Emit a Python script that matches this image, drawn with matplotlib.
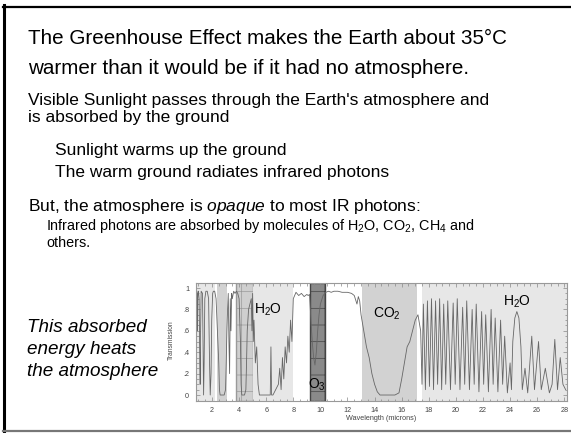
"""
Slide: greenhouse effect text with atmospheric transmission spectrum.
"""

import matplotlib

matplotlib.use("Agg")
import matplotlib.pyplot as plt
from matplotlib.lines import Line2D

plt.rcParams["font.family"] = ["Liberation Sans", "DejaVu Sans"]
plt.rcParams["mathtext.fontset"] = "custom"
plt.rcParams["mathtext.rm"] = "Liberation Sans"
plt.rcParams["mathtext.it"] = "Liberation Sans:italic"
plt.rcParams["hatch.linewidth"] = 0.5

W, H = 571, 433

# ── spectrum (wavelength in microns, transmission) ──
wavelength = [
    0.85, 0.9, 0.93, 0.95, 0.97, 1.0, 1.05, 1.1, 1.13, 1.16, 1.2, 1.3, 1.35, 1.38,
    1.42, 1.47, 1.55, 1.65, 1.75, 1.82, 1.87, 1.93, 1.98, 2.05, 2.1, 2.2, 2.3,
    2.4, 2.5, 2.55, 2.6, 2.7, 2.8, 2.9, 3.0, 3.05, 3.1,
    3.15, 3.2, 3.25, 3.3, 3.35, 3.4, 3.45, 3.5, 3.6, 3.7, 3.8, 3.9, 4.0,
    4.1, 4.15, 4.2, 4.3, 4.4, 4.5, 4.55, 4.6, 4.7, 4.8, 4.9, 4.95, 5.0,
    5.05, 5.1, 5.2, 5.3, 5.4, 5.5, 5.6, 5.8, 6.0, 6.2, 6.3, 6.35, 6.4, 6.5, 6.7,
    6.9, 7.0, 7.1, 7.2, 7.3, 7.4, 7.5, 7.6, 7.7, 7.8, 7.9, 8.0,
    8.1, 8.2, 8.4, 8.6, 8.8, 9.0, 9.1, 9.2, 9.3, 9.4, 9.5, 9.6, 9.7, 9.8, 9.9,
    10.0, 10.2, 10.4,
    10.6, 10.8, 11.0, 11.3, 11.6, 12.0, 12.3, 12.5, 12.7, 12.8, 12.9,
    13.0, 13.2, 13.4, 13.6, 13.8, 14.0, 14.2, 14.4, 15.0, 15.5, 15.8, 16.0, 16.2,
    16.4, 16.6, 16.8, 17.0, 17.2, 17.4,
    17.5, 17.6, 17.75, 17.9, 18.05, 18.2, 18.35, 18.5, 18.65, 18.8, 18.95, 19.1,
    19.25, 19.4, 19.6, 19.8, 19.95, 20.1, 20.3, 20.5, 20.65, 20.8, 21.0, 21.2,
    21.35, 21.5, 21.7, 21.9, 22.05, 22.2, 22.4, 22.6, 22.75, 22.9, 23.1, 23.3,
    23.45, 23.6, 23.8, 24.0, 24.1, 24.2, 24.35, 24.5, 24.65, 24.8, 24.9, 25.1,
    25.3, 25.6, 25.8, 26.1, 26.3, 26.6, 26.9, 27.1, 27.3, 27.5, 27.7, 27.9, 28.1,
]
transmission = [
    0.97, 0.95, 0.6, 0.9, 0.97, 0.97, 0.9, 0.3, 0.1, 0.6, 0.97, 0.95, 0.4, 0.0,
    0.3, 0.9, 0.97, 0.97, 0.9, 0.3, 0.0, 0.2, 0.7, 0.95, 0.97, 0.97, 0.9,
    0.6, 0.3, 0.05, 0.0, 0.0, 0.0, 0.0, 0.05, 0.3, 0.6,
    0.8, 0.95, 0.5, 0.2, 0.9, 0.6, 0.95, 0.9, 0.97, 0.95, 0.97, 0.95, 0.9,
    0.5, 0.1, 0.0, 0.0, 0.0, 0.05, 0.3, 0.6, 0.8, 0.85, 0.9, 0.6, 0.95,
    0.5, 0.7, 0.3, 0.45, 0.1, 0.0, 0.0, 0.0, 0.0, 0.0, 0.0, 0.45, 0.0, 0.0, 0.05,
    0.1, 0.25, 0.05, 0.35, 0.15, 0.45, 0.3, 0.55, 0.4, 0.7, 0.5, 0.9,
    0.93, 0.96, 0.93, 0.95, 0.92, 0.94, 0.93, 0.94, 0.7, 0.5, 0.35, 0.28, 0.4,
    0.6, 0.75, 0.85, 0.93, 0.96,
    0.97, 0.96, 0.97, 0.97, 0.96, 0.96, 0.95, 0.93, 0.85, 0.92, 0.88,
    0.75, 0.6, 0.45, 0.35, 0.2, 0.1, 0.03, 0.0, 0.0, 0.0, 0.02, 0.15, 0.3,
    0.45, 0.5, 0.6, 0.7, 0.75, 0.6,
    0.1, 0.85, 0.05, 0.88, 0.08, 0.9, 0.05, 0.88, 0.1, 0.9, 0.05, 0.85,
    0.1, 0.88, 0.05, 0.86, 0.1, 0.9, 0.05, 0.82, 0.1, 0.88, 0.05, 0.8,
    0.1, 0.85, 0.03, 0.78, 0.1, 0.75, 0.03, 0.8, 0.1, 0.72, 0.03, 0.7,
    0.1, 0.55, 0.02, 0.3, 0.05, 0.5, 0.72, 0.78, 0.72, 0.45, 0.05, 0.25,
    0.02, 0.55, 0.05, 0.5, 0.05, 0.25, 0.02, 0.1, 0.52, 0.05, 0.35, 0.1, 0.05,
]

# absorption bands shaded behind the spectrum: (start, end, shade)
band_start = [0.82, 2.35, 3.8, 5.0, 9.2, 13.1, 17.5]
band_end = [2.2, 3.1, 5.0, 8.0, 10.35, 17.1, 28.2]
band_shade = ["light", "medium", "grid", "light", "dark", "medium", "light"]

band_labels = [r"H$_\mathregular{2}$O", r"O$_\mathregular{3}$",
               r"CO$_\mathregular{2}$", r"H$_\mathregular{2}$O"]
label_x = [6.1, 9.75, 14.9, 24.5]
label_y = [0.8, 0.1, 0.76, 0.87]

x_ticks = list(range(2, 30, 2))
y_ticks = [0, 0.2, 0.4, 0.6, 0.8, 1.0]
y_tick_labels = ["0", ".2", ".4", ".6", ".8", "1"]

title_lines = [
    "The Greenhouse Effect makes the Earth about 35°C",
    "warmer than it would be if it had no atmosphere.",
]


def fx(x):
    return x / W


def fy(y):
    return 1 - y / H


fig = plt.figure(figsize=(W / 100, H / 100), dpi=100)

# slide frame
fig.add_artist(Line2D([fx(4), fx(4)], [fy(5), fy(433)], color="black", lw=2.2))
fig.add_artist(Line2D([fx(3), fx(571)], [fy(7), fy(7)], color="black", lw=1.6))
fig.add_artist(Line2D([fx(3), fx(571)], [fy(431), fy(431)], color="#777777", lw=1.6))

# slide text
fig.text(fx(28), fy(38), title_lines[0], fontsize=14.9, va="center")
fig.text(fx(28), fy(69), title_lines[1], fontsize=14.9, va="center")
fig.text(fx(28), fy(100), "Visible Sunlight passes through the Earth's atmosphere and",
         fontsize=12.5, va="center")
fig.text(fx(28), fy(118), "is absorbed by the ground", fontsize=12.5, va="center")
fig.text(fx(55), fy(150), "Sunlight warms up the ground", fontsize=12.5, va="center")
fig.text(fx(55), fy(172), "The warm ground radiates infrared photons", fontsize=12.5,
         va="center")
fig.text(fx(28), fy(207), r"But, the atmosphere is $\mathit{opaque}$ to most IR photons:",
         fontsize=12.5, va="center")
fig.text(fx(46), fy(226),
         r"Infrared photons are absorbed by molecules of H$_\mathregular{2}$O, "
         r"CO$_\mathregular{2}$, CH$_\mathregular{4}$ and",
         fontsize=10.4, va="center")
fig.text(fx(46), fy(243), "others.", fontsize=10.4, va="center")
for i, line in enumerate(["This absorbed", "energy heats", "the atmosphere"]):
    fig.text(fx(27), fy(327 + 22 * i), line, fontsize=13.6, style="italic", va="center")

# transmission spectrum panel
ax = fig.add_axes([fx(196), fy(401), fx(567) - fx(196), fy(283) - fy(401)])
ax.set_xlim(0.82, 28.2)
ax.set_ylim(-0.056, 1.047)

shade_style = {
    "light": dict(facecolor="#e7e7e7", edgecolor="none"),
    "medium": dict(facecolor="#d2d2d2", edgecolor="none"),
    "grid": dict(facecolor="#cfcfcf", edgecolor="#9a9a9a", hatch="+"),
    "dark": dict(facecolor="#8a8a8a", edgecolor="#444444", hatch="+"),
}
for a, b, s in zip(band_start, band_end, band_shade):
    ax.axvspan(a, b, zorder=0, **shade_style[s])

ax.plot(wavelength, transmission, color="#666666", lw=0.6, zorder=2)

for txt, x, y in zip(band_labels, label_x, label_y):
    ax.text(x, y, txt, fontsize=10, ha="center", va="center", zorder=3)

ax.set_xticks(x_ticks)
ax.set_yticks(y_ticks)
ax.set_yticklabels(y_tick_labels)
ax.set_xticks([t / 2 for t in range(2, 57)], minor=True)
ax.set_yticks([t / 20 for t in range(0, 21)], minor=True)
ax.tick_params(which="both", direction="in", top=True, right=True, color="#888888",
               labelsize=5.2, labelcolor="#444444", width=0.5)
ax.tick_params(which="major", length=3)
ax.tick_params(which="minor", length=1.8)
ax.tick_params(axis="x", pad=4)
ax.tick_params(axis="y", pad=5)
for sp in ax.spines.values():
    sp.set_color("#999999")
    sp.set_linewidth(0.8)

fig.text(fx(381), fy(418), "Wavelength (microns)", fontsize=5.2, color="#444444",
         ha="center", va="center")
fig.text(fx(171), fy(340), "Transmission", fontsize=4.8, color="#444444",
         rotation=90, ha="center", va="center")

fig.savefig("out.png", dpi=100)
